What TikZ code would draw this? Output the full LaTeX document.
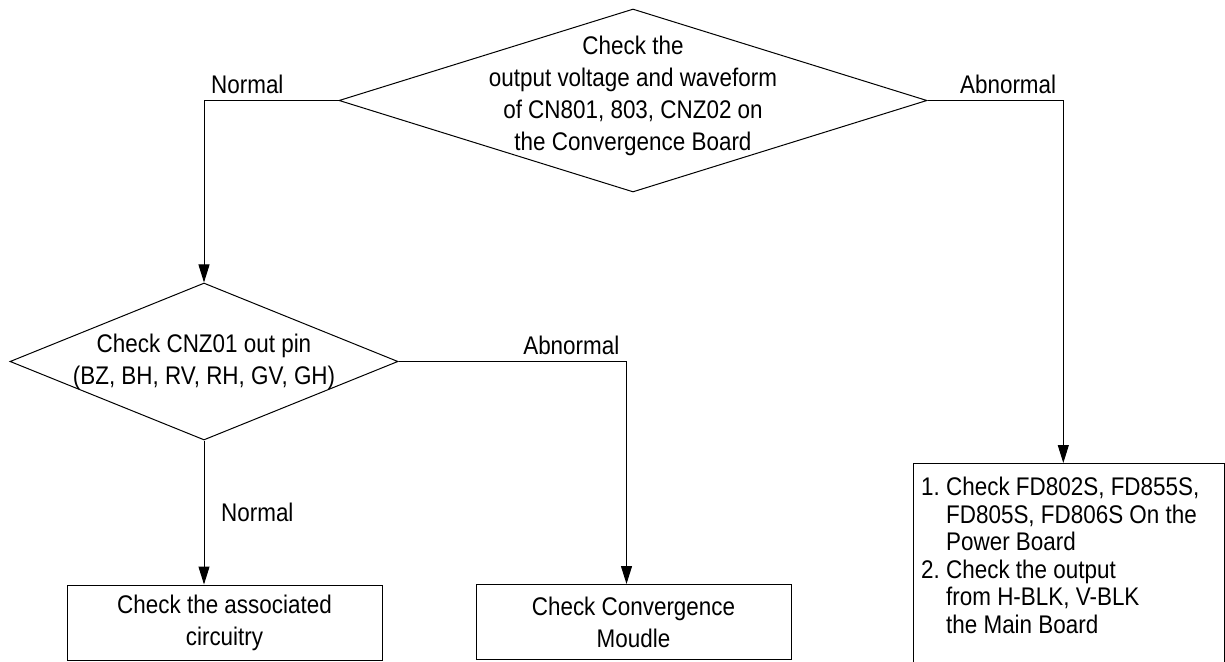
\documentclass[tikz,border=0pt]{standalone}
\usepackage{fontspec}
\setmainfont{Liberation Sans}[FakeStretch=0.88]
\usetikzlibrary{positioning,arrows.meta,shapes.geometric}

\begin{document}
\begin{tikzpicture}[
  x=0.5pt, y=-0.5pt,
  every node/.style={font=\fontsize{12.75}{16}\selectfont},
  decision/.style={draw, diamond, inner sep=0pt},
  box/.style={draw, align=center, minimum width=157.5pt, minimum height=37.5pt, inner sep=4pt},
  txt/.style={align=center, inner sep=0pt},
  arr/.style={-{Triangle[length=9pt, width=5.5pt]}},
  line width=0.5pt
]
\clip (0,0) rectangle (1225,662);

\node[decision, minimum width=294pt, minimum height=91.5pt] (d1) at (633,100.5) {};
\node[txt] (t1) at ([yshift=2.5pt]d1.center) {Check the\\output voltage and waveform\\of CN801, 803, CNZ02 on\\the Convergence Board};

\node[decision, minimum width=194pt, minimum height=78.5pt] (d2) at (204,361.5) {};
\node[txt] (t2) at (d2.center) {Check CNZ01 out pin\\(BZ, BH, RV, RH, GV, GH)};

\node[box] (b1) at (224.5,622.5) {Check the associated\\circuitry};
\node[box] (b2) at (633.5,622) {Check Convergence\\Moudle};

\node[draw, anchor=north west, inner xsep=4pt, inner ysep=7pt] (b3) at (912.7,463) {\parbox[c][96pt][t]{147.6pt}{\fontsize{12.75}{13.75}\selectfont
  1.\ Check FD802S, FD855S,\\
  \phantom{1.\ }FD805S, FD806S On the\\
  \phantom{1.\ }Power Board\\
  2.\ Check the output\\
  \phantom{2.\ }from H-BLK, V-BLK\\
  \phantom{2.\ }the Main Board}};

\draw[arr] (d1.west) -| node[above right, pos=0.5] {Normal} (d2.north);
\draw[arr] (d1.east) -| node[above left, pos=0.5] {Abnormal} ([xshift=-2.75pt]b3.north);
\draw[arr] (d2.east) -| node[above left, pos=0.5] {Abnormal} ([xshift=-3.5pt]b2.north);
\draw[arr] (d2.south) -- node[right=5pt] {Normal} (d2.south |- b1.north);
\end{tikzpicture}
\end{document}
